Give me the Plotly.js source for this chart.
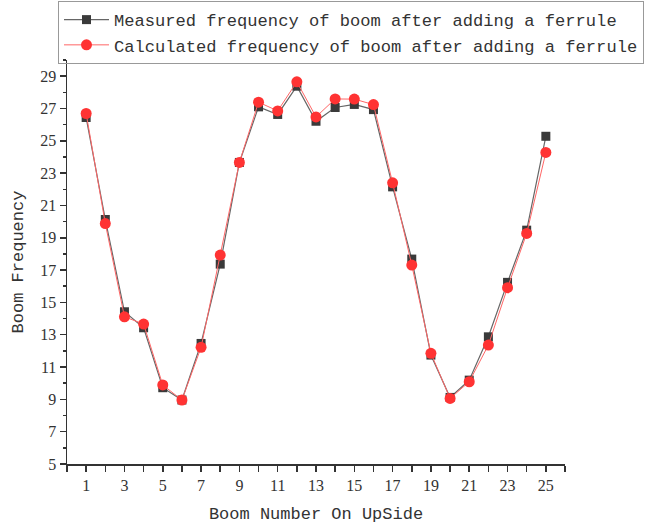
<!DOCTYPE html>
<html>
<head>
<meta charset="utf-8">
<script src="https://cdn.plot.ly/plotly-3.0.1.min.js"></script>
<style>html,body{margin:0;padding:0;background:#fff;}</style>
</head>
<body>
<div id="chart" style="width:651px;height:524px;"></div>
<script>
var boomNumbers = [1,2,3,4,5,6,7,8,9,10,11,12,13,14,15,16,17,18,19,20,21,22,23,24,25];
var measured = [26.44,20.13,14.42,13.43,9.72,8.96,12.46,17.37,23.66,27.1,26.63,28.38,26.21,27.06,27.25,26.93,22.15,17.68,11.74,9.12,10.19,12.87,16.24,19.47,25.28];
var calculated = [26.69,19.88,14.11,13.66,9.89,8.96,12.22,17.93,23.66,27.39,26.85,28.65,26.48,27.59,27.58,27.24,22.4,17.31,11.85,9.06,10.09,12.36,15.91,19.27,24.28];
var seriesNames = ["Measured frequency of boom after adding a ferrule","Calculated frequency of boom after adding a ferrule"];
var xTickVals = [1,3,5,7,9,11,13,15,17,19,21,23,25];
var yTickVals = [5,7,9,11,13,15,17,19,21,23,25,27,29];

var traces = [
  {x: boomNumbers, y: measured, name: seriesNames[0], type: 'scatter', mode: 'lines+markers',
   line: {color: '#666666', width: 1.2},
   marker: {symbol: 'square', size: 9, color: '#3a3a3a'}},
  {x: boomNumbers, y: calculated, name: seriesNames[1], type: 'scatter', mode: 'lines+markers',
   line: {color: '#ff6666', width: 1},
   marker: {symbol: 'circle', size: 11, color: '#ff3333'}}
];

var tickFont = {family: 'Liberation Serif, serif', size: 16, color: '#333'};
var titleFont = {family: 'Liberation Mono, monospace', size: 17, color: '#333'};
var layout = {
  width: 651, height: 524,
  margin: {l: 67, r: 86, t: 60, b: 60, autoexpand: false},
  paper_bgcolor: '#fff', plot_bgcolor: '#fff',
  showlegend: true,
  legend: {
    x: -9/498, y: 1 + 59/404, xanchor: 'left', yanchor: 'top', xref: 'paper', yref: 'paper',
    bordercolor: '#999', borderwidth: 1, bgcolor: 'rgba(255,255,255,0)',
    font: {family: 'Liberation Mono, monospace', size: 17.1, color: '#333'},
    itemwidth: 45, tracegroupgap: 0
  },
  xaxis: {
    range: [0, 26], tickmode: 'array', tickvals: xTickVals, ticktext: xTickVals.map(String),
    ticks: 'outside', ticklen: 6, tickwidth: 1.5, tickcolor: '#333',
    minor: {dtick: 1, tick0: 0, ticks: 'outside', ticklen: 6, tickwidth: 1.5, tickcolor: '#333', showgrid: false},
    showline: true, linecolor: '#333', linewidth: 1.5, showgrid: false, zeroline: false,
    automargin: false,
    tickfont: tickFont,
    title: {text: 'Boom Number On UpSide', font: titleFont}
  },
  yaxis: {
    range: [5, 30], tickmode: 'array', tickvals: yTickVals, ticktext: yTickVals.map(String),
    ticks: 'outside', ticklen: 6, tickwidth: 1.5, tickcolor: '#333',
    minor: {dtick: 1, tick0: 0, ticks: 'outside', ticklen: 3, tickwidth: 1.5, tickcolor: '#333', showgrid: false},
    showline: true, linecolor: '#333', linewidth: 1.5, showgrid: false, zeroline: false,
    automargin: false,
    tickfont: tickFont,
    title: {text: 'Boom Frequency', font: titleFont}
  }
};

Plotly.newPlot('chart', traces, layout, {displayModeBar: false, staticPlot: true});
</script>
</body>
</html>
